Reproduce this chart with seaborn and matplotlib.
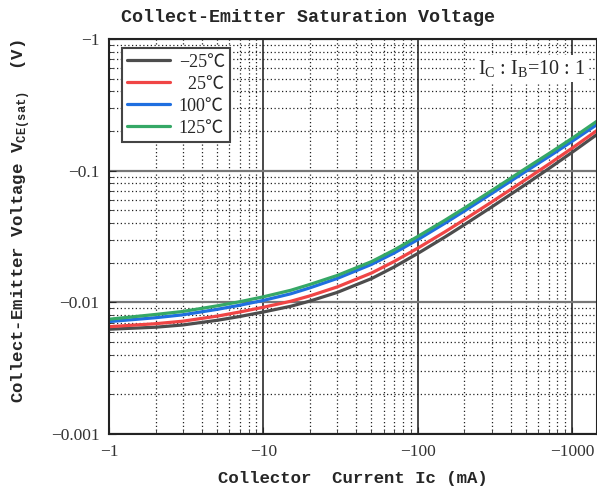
import matplotlib
matplotlib.use("Agg")
import matplotlib.pyplot as plt
import matplotlib.ticker as mticker
import pandas as pd
import seaborn as sns

# collector current magnitude (mA) and |Vce(sat)| (V)
current = [1, 2, 3, 5, 7, 10, 15, 20, 30, 50, 70, 100, 150, 200, 300, 500, 700, 1000, 1442]
v_m25 = [0.00625, 0.00647, 0.00673, 0.00730, 0.00780, 0.00845, 0.00933, 0.01023, 0.01189, 0.01514,
         0.01854, 0.02355, 0.03141, 0.0389, 0.0530, 0.0789, 0.1033, 0.1384, 0.1884]
v_25 = [0.00653, 0.00688, 0.00719, 0.00785, 0.00844, 0.00918, 0.01019, 0.01120, 0.01309, 0.01669,
        0.02041, 0.02584, 0.03439, 0.04253, 0.05781, 0.0858, 0.1117, 0.1489, 0.2020]
v_100 = [0.00714, 0.00764, 0.00804, 0.00884, 0.00950, 0.01035, 0.01161, 0.01289, 0.01518, 0.01941,
         0.02367, 0.02998, 0.03998, 0.04943, 0.06706, 0.0990, 0.1274, 0.1677, 0.2243]
v_125 = [0.00744, 0.00809, 0.00852, 0.00940, 0.01010, 0.01102, 0.01234, 0.01368, 0.01600, 0.02037,
         0.02494, 0.03170, 0.04213, 0.0520, 0.07055, 0.1043, 0.1342, 0.1768, 0.2377]
temps = ["\u221225\u2103", "  25\u2103", "100\u2103", "125\u2103"]
colors = ["#4d4d4d", "#f04545", "#1f6fe0", "#35a866"]

rows = []
for t, vals in zip(temps, [v_m25, v_25, v_100, v_125]):
    for i, v in zip(current, vals):
        rows.append({"Ic": i, "Vce": v, "temp": t})
df = pd.DataFrame(rows)

sns.set_style("white")
plt.rcParams["font.family"] = ["Liberation Serif", "Noto Sans CJK SC", "DejaVu Sans"]
plt.rcParams["mathtext.fontset"] = "custom"
plt.rcParams["mathtext.rm"] = "Liberation Serif"
plt.rcParams["mathtext.bf"] = "Liberation Mono:bold"

fig = plt.figure(figsize=(5.97, 4.91), dpi=100)
ax = fig.add_axes([109 / 597, 1 - 434 / 491, 1 - 109 / 597, 395 / 491])

sns.lineplot(data=df, x="Ic", y="Vce", hue="temp", hue_order=temps,
             palette=colors, linewidth=2.3, ax=ax)

ax.set_xscale("log")
ax.set_yscale("log")
ax.set_xlim(1, 1442)
ax.set_ylim(0.001, 1)

neg = mticker.FuncFormatter(lambda v, p: "\u2212" + f"{v:g}")
ax.xaxis.set_major_locator(mticker.LogLocator(base=10, numticks=10))
ax.yaxis.set_major_locator(mticker.LogLocator(base=10, numticks=10))
ax.xaxis.set_minor_locator(mticker.LogLocator(base=10, subs=range(2, 10), numticks=20))
ax.yaxis.set_minor_locator(mticker.LogLocator(base=10, subs=range(2, 10), numticks=20))
ax.xaxis.set_major_formatter(neg)
ax.yaxis.set_major_formatter(neg)
ax.xaxis.set_minor_formatter(mticker.NullFormatter())
ax.yaxis.set_minor_formatter(mticker.NullFormatter())

ax.tick_params(which="major", direction="in", length=5, labelsize=12.5, labelcolor="#333333", pad=7)
ax.tick_params(which="minor", direction="in", length=3)
ax.tick_params(axis="both", which="both", bottom=True, left=True)

ax.xaxis.grid(True, which="major", color="#2a2a2a", lw=1.2)
ax.yaxis.grid(True, which="major", color="#777777", lw=1.6)
ax.grid(True, which="minor", color="#222222", lw=0.9, linestyle=(0, (1, 2)))
ax.set_axisbelow(True)

for s in ax.spines.values():
    s.set_color("#222222")
    s.set_linewidth(1.5)

mono = {"family": "Liberation Mono", "weight": "bold", "size": 12.5}
ax.set_xlabel("Collector  Current Ic (mA)", fontdict=mono, labelpad=8)
ax.set_ylabel(r"Collect-Emitter Voltage V$_{\mathbf{CE(sat)}}$  (V)", fontdict=mono)
ax.yaxis.set_label_coords(-0.157, 0.54)
fig.text(308 / 597, 1 - 17 / 491, "Collect-Emitter Saturation Voltage",
         ha="center", va="center", family="Liberation Mono", weight="bold", size=13.2)

ax.text(0.975, 0.925, r"$\mathrm{I_C}$ : $\mathrm{I_B}$=10 : 1", transform=ax.transAxes,
        ha="right", va="center", fontsize=14.5,
        bbox=dict(facecolor="white", edgecolor="none", pad=2))

handles, labels = ax.get_legend_handles_labels()
leg = ax.legend(handles, labels, loc="upper left", bbox_to_anchor=(0.0266, 0.977),
                borderaxespad=0, fontsize=13, handlelength=2.35, handletextpad=0.5,
                labelspacing=0.28, fancybox=False, framealpha=1, edgecolor="#444444",
                borderpad=0.3, title=None)
leg.get_frame().set_linewidth(1.5)

fig.savefig("out.png", dpi=100)
